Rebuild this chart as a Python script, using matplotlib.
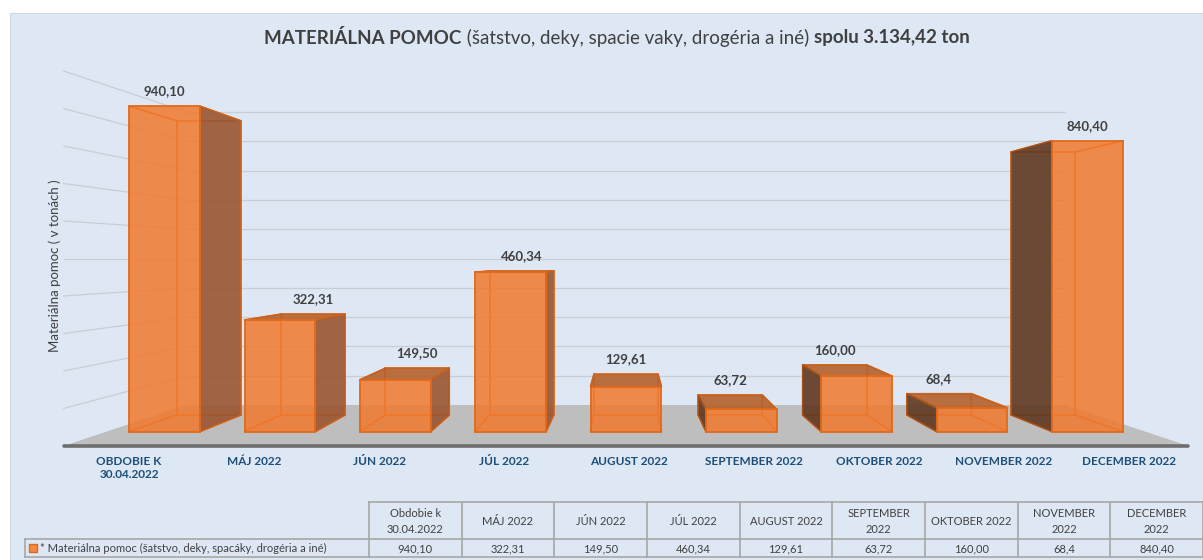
import matplotlib

matplotlib.use("Agg")
import matplotlib.pyplot as plt  # noqa: E402
from matplotlib.patches import Polygon, Rectangle  # noqa: E402

plt.rcParams["font.family"] = ["Lato", "DejaVu Sans"]

# --- data -----------------------------------------------------------------
categories = [
    "OBDOBIE K\n30.04.2022", "MÁJ 2022", "JÚN 2022", "JÚL 2022", "AUGUST 2022",
    "SEPTEMBER 2022", "OKTOBER 2022", "NOVEMBER 2022", "DECEMBER 2022",
]
table_headers = [
    "Obdobie k\n30.04.2022", "MÁJ 2022", "JÚN 2022", "JÚL 2022", "AUGUST 2022",
    "SEPTEMBER\n2022", "OKTOBER 2022", "NOVEMBER\n2022", "DECEMBER\n2022",
]
values = [940.10, 322.31, 149.50, 460.34, 129.61, 63.72, 160.00, 68.4, 840.40]
value_labels = ["940,10", "322,31", "149,50", "460,34", "129,61",
                "63,72", "160,00", "68,4", "840,40"]
series_name = "* Materiálna pomoc (šatstvo, deky, spacáky, drogéria a iné)"
title_parts = [
    ("MATERIÁLNA POMOC", "bold"),
    (" (šatstvo, deky, spacie vaky, drogéria a iné) ", "normal"),
    ("spolu 3.134,42 ton", "bold"),
]
y_title = "Materiálna pomoc ( v tonách )"
y_max, y_step = 1000, 100

# --- styling / 3d view ----------------------------------------------------
W, H = 1203, 560
BG = "#DDE8F4"
TXT = "#404040"
CAT = "#1F4E79"
EDGE = "#E2691A"
FRONT = "#F1792D"
SIDE_R = "#9A5530"
SIDE_L = "#60381F"
TOP = "#B6612C"
GRID = "#C9CED5"

VX, VY = 626, 258.5          # vanishing point (pixels)
EYE = 500                    # camera height in value units
Z_FRONT, Z_BACK = 2.667, 3.413
Z_BAR0, Z_BAR1 = 2.890, 3.195
HALF = 1500                  # floor half width (world units)
STEP = 2 * HALF / len(values)
BAR_HALF = 102.5


def proj(X, h, z):
    return VX + X / z, VY - (h - EYE) / z


def poly(ax, pts, **kw):
    ax.add_patch(Polygon([proj(*p) for p in pts], closed=True, **kw))


def seg(ax, p, q, **kw):
    a, b = proj(*p), proj(*q)
    ax.plot([a[0], b[0]], [a[1], b[1]], solid_capstyle="round", **kw)


fig = plt.figure(figsize=(W / 100, H / 100), dpi=100)
fig.patch.set_facecolor("white")
ax = fig.add_axes([0, 0, 1, 1])
ax.set_xlim(0, W)
ax.set_ylim(H, 0)
ax.axis("off")
ax.add_patch(Rectangle((10, 13), W - 10, H - 13, facecolor=BG, edgecolor="#D0D7E0", lw=0.8))

# floor
poly(ax, [(-HALF, 0, Z_FRONT), (HALF, 0, Z_FRONT), (HALF, 0, Z_BACK), (-HALF, 0, Z_BACK)],
     facecolor="#BEBEBE", edgecolor="none", zorder=1)
seg(ax, (-HALF, 0, Z_FRONT), (HALF, 0, Z_FRONT), color="#6E6E6E", lw=2.6, zorder=2)

# gridlines on back and left wall
for v in range(y_step, y_max + 1, y_step):
    seg(ax, (-HALF, v, Z_BACK), (HALF, v, Z_BACK), color=GRID, lw=0.9, zorder=1)
    seg(ax, (-HALF, v, Z_FRONT), (-HALF, v, Z_BACK), color=GRID, lw=0.9, zorder=1)

# bars
for i, v in enumerate(values):
    xc = -HALF + STEP * (i + 0.5)
    xl, xr = xc - BAR_HALF, xc + BAR_HALF
    # hidden edges, seen through the translucent faces
    back = [(xl, 0, Z_BAR1), (xr, 0, Z_BAR1), (xr, v, Z_BAR1), (xl, v, Z_BAR1)]
    for a, b in zip(back, back[1:] + back[:1]):
        seg(ax, a, b, color=EDGE, lw=1.2, zorder=3)
    for X in (xl, xr):
        for h in (0, v):
            seg(ax, (X, h, Z_BAR0), (X, h, Z_BAR1), color=EDGE, lw=1.2, zorder=3)
    if xr < 0:
        poly(ax, [(xr, 0, Z_BAR0), (xr, 0, Z_BAR1), (xr, v, Z_BAR1), (xr, v, Z_BAR0)],
             facecolor=SIDE_R, alpha=0.9, edgecolor="none", zorder=4)
        poly(ax, [(xr, 0, Z_BAR0), (xr, 0, Z_BAR1), (xr, v, Z_BAR1), (xr, v, Z_BAR0)],
             facecolor="none", edgecolor="#C9621E", lw=1.0, zorder=6)
    elif xl > 0:
        poly(ax, [(xl, 0, Z_BAR0), (xl, 0, Z_BAR1), (xl, v, Z_BAR1), (xl, v, Z_BAR0)],
             facecolor=SIDE_L, alpha=0.9, edgecolor="none", zorder=4)
        poly(ax, [(xl, 0, Z_BAR0), (xl, 0, Z_BAR1), (xl, v, Z_BAR1), (xl, v, Z_BAR0)],
             facecolor="none", edgecolor="#A9531A", lw=1.0, zorder=6)
    if v < EYE:
        poly(ax, [(xl, v, Z_BAR0), (xr, v, Z_BAR0), (xr, v, Z_BAR1), (xl, v, Z_BAR1)],
             facecolor=TOP, alpha=0.9, edgecolor="#C9621E", lw=1.0, zorder=4)
    poly(ax, [(xl, 0, Z_BAR0), (xr, 0, Z_BAR0), (xr, v, Z_BAR0), (xl, v, Z_BAR0)],
         facecolor=FRONT, alpha=0.85, edgecolor="none", zorder=5)
    poly(ax, [(xl, 0, Z_BAR0), (xr, 0, Z_BAR0), (xr, v, Z_BAR0), (xl, v, Z_BAR0)],
         facecolor="none", edgecolor=EDGE, lw=1.3, zorder=6)

    # value label above the highest edge of the top face
    z_lab = Z_BAR1 if v < EYE else Z_BAR0
    lx, ly = proj(xc, v, z_lab)
    ax.text(lx, ly - 15, value_labels[i], ha="center", va="center",
            fontsize=9.5, fontweight="bold", color=TXT, zorder=7)

    # category label under the floor
    cx, _ = proj(xc, 0, Z_FRONT)
    ax.text(cx + 3, 456, categories[i], ha="center", va="top", fontsize=8.5,
            fontweight="bold", color=CAT, linespacing=1.25)

# axis title
ax.text(55, 266, y_title, rotation=90, ha="center", va="center", fontsize=9.5, color=TXT)

# chart title with mixed weights
renderer = fig.canvas.get_renderer()
pieces = []
for s, wgt in title_parts:
    t = ax.text(0, 38, s, ha="left", va="center", fontsize=13.5, fontweight=wgt, color=TXT)
    pieces.append((t, t.get_window_extent(renderer).width))
x = 617 - sum(w for _, w in pieces) / 2
for t, w in pieces:
    t.set_x(x)
    x += w

# data table
t_top, t_mid, t_bot = 502, 539, 557
c0, c1 = 369, W
cw = (c1 - c0) / len(values)
lc = dict(color="#A6A6A6", lw=1.2)
ax.plot([c0, c1], [t_top, t_top], **lc)
ax.plot([25, c1], [t_mid, t_mid], **lc)
ax.plot([25, c1], [t_bot, t_bot], **lc)
ax.plot([25, 25], [t_mid, t_bot], **lc)
for j in range(len(values) + 1):
    ax.plot([c0 + j * cw] * 2, [t_top, t_bot], **lc)
for j, (hdr, lab) in enumerate(zip(table_headers, value_labels)):
    mx = c0 + (j + 0.5) * cw
    ax.text(mx, (t_top + t_mid) / 2 + 1, hdr, ha="center", va="center",
            fontsize=8, color=TXT, linespacing=1.6)
    ax.text(mx, (t_mid + t_bot) / 2 + 0.5, lab, ha="center", va="center",
            fontsize=8, color=TXT)
ax.add_patch(Rectangle((29, 544), 8, 8, facecolor="#F08A45", edgecolor=EDGE, lw=1))
ax.text(40, (t_mid + t_bot) / 2 + 0.5, series_name, ha="left", va="center",
        fontsize=8, color=TXT)

fig.savefig("out.png", dpi=100)
